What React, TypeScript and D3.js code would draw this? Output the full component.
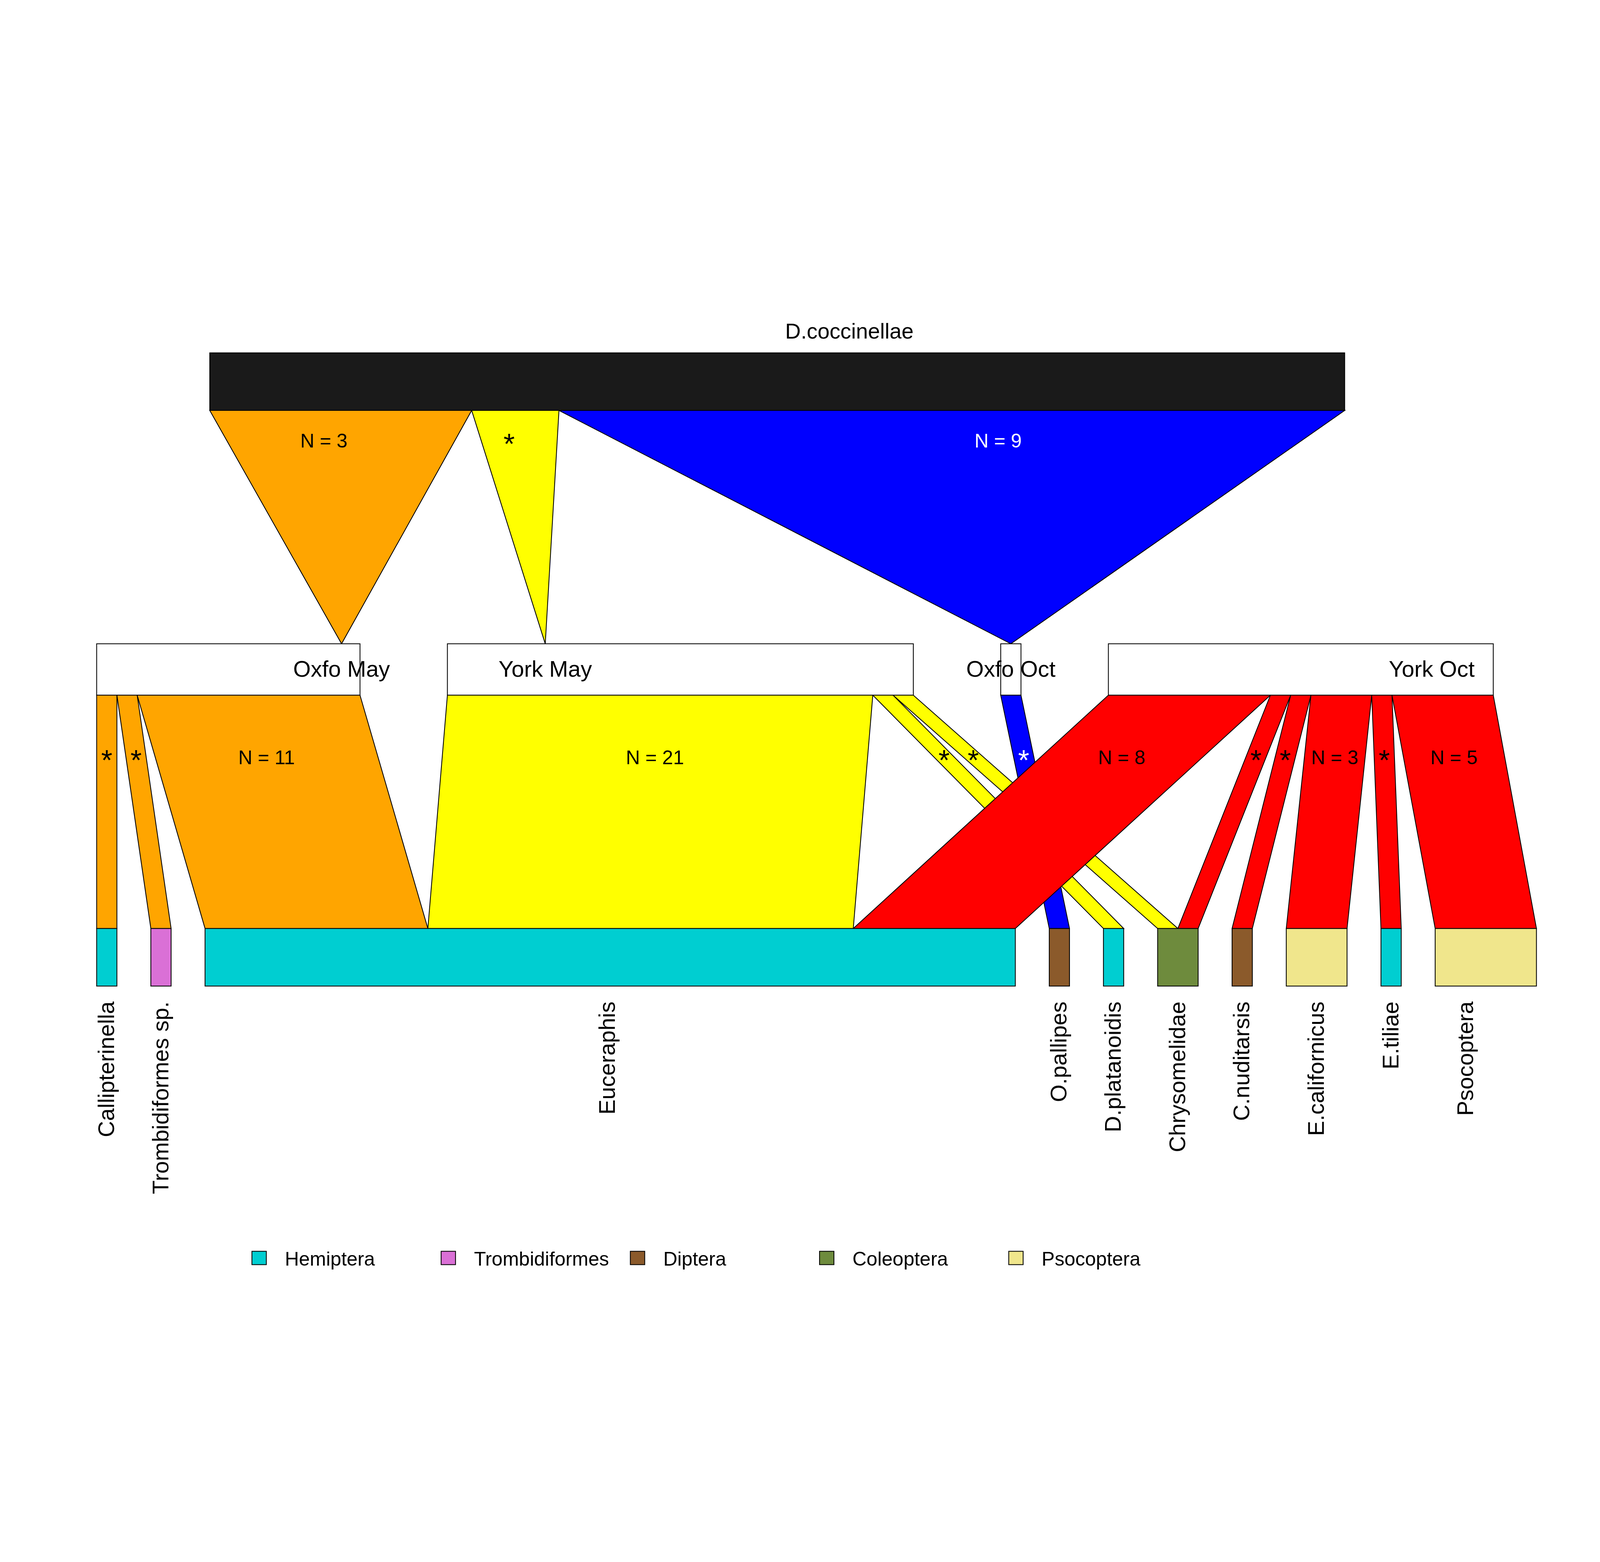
import React from "react";
import * as d3 from "d3";

const topNode = "D.coccinellae";
const midNodes = ["Oxfo May", "York May", "Oxfo Oct", "York Oct"];
const midColors = ["#FFA500", "#FFFF00", "#0000FF", "#FF0000"];
const topCounts = [3, 1, 9, 0];
const bottomNodes = ["Callipterinella", "Trombidiformes sp.", "Euceraphis", "O.pallipes", "D.platanoidis", "Chrysomelidae", "C.nuditarsis", "E.californicus", "E.tiliae", "Psocoptera"];
const bottomOrder = ["Hemiptera", "Trombidiformes", "Hemiptera", "Diptera", "Hemiptera", "Coleoptera", "Diptera", "Psocoptera", "Hemiptera", "Psocoptera"];
const orders = ["Hemiptera", "Trombidiformes", "Diptera", "Coleoptera", "Psocoptera"];
const orderColors = ["#00CED1", "#DA70D6", "#8B5A2B", "#6E8B3D", "#F0E68C"];
// links: [mid index, bottom index, count]
const links: [number, number, number][] = [
  [0, 0, 1], [0, 1, 1], [0, 2, 11],
  [1, 2, 21], [1, 4, 1], [1, 5, 1],
  [2, 3, 1],
  [3, 2, 8], [3, 5, 1], [3, 6, 1], [3, 7, 3], [3, 8, 1], [3, 9, 5],
];
// apex position of top links as fraction along mid box
const apexFrac = [0.93, 0.21, 0.5, 0.84];

export default function App() {
  const W = 1556, H = 1037;
  const unit = d3.scaleLinear().domain([0, 1]).range([0, 19.7]);
  const topUnit = d3.scaleLinear().domain([0, 1]).range([0, 84.9]);
  const y = { topT: 102, topB: 158, midT: 385, midB: 435, botT: 662, botB: 718 };

  const midTot = midNodes.map((_, i) => d3.sum(links.filter(l => l[0] === i), l => l[2]));
  const botTot = bottomNodes.map((_, i) => d3.sum(links.filter(l => l[1] === i), l => l[2]));
  const midX: number[] = []; let cx = 94;
  midTot.forEach(t => { midX.push(cx); cx += unit(t) + 85; });
  const botX: number[] = []; cx = 94;
  botTot.forEach(t => { botX.push(cx); cx += unit(t) + 33; });
  const topX: number[] = []; cx = 204;
  topCounts.forEach(t => { topX.push(cx); cx += topUnit(t); });
  const topEnd = cx;

  const midOff = midNodes.map((_, i) => midX[i]);
  const botOff = bottomNodes.map((_, i) => botX[i]);
  const sorted = [...links].sort((a, b) => a[0] - b[0] || a[1] - b[1]);
  const linkGeo = sorted.map(l => {
    const w = unit(l[2]);
    const m0 = midOff[l[0]]; midOff[l[0]] += w;
    const b0 = botOff[l[1]]; botOff[l[1]] += w;
    return { l, m0, b0, w };
  });
  const font = "Liberation Sans, Arial, sans-serif";
  const fs = 19;

  return (
    <svg viewBox={`0 0 ${W} ${H}`} preserveAspectRatio="xMidYMid meet"
      style={{ position: "fixed", left: 0, top: 0, width: "100vw", height: "100vh", display: "block", background: "white" }} fontFamily={font}>
      <rect x={0} y={0} width={W} height={H} fill="white" />
      <text x={826} y={88} textAnchor="middle" fontSize={21}>{topNode}</text>
      <rect x={204} y={y.topT} width={topEnd - 204} height={y.topB - y.topT} fill="#1A1A1A" stroke="black" strokeWidth={0.8} />
      {topCounts.map((c, i) => {
        if (!c) return null;
        const ax = midX[i] + unit(midTot[i]) * apexFrac[i];
        const x0 = topX[i], x1 = x0 + topUnit(c);
        return (
          <g key={"t" + i}>
            <path d={`M${x0},${y.topB}L${x1},${y.topB}L${ax},${y.midT}Z`} fill={midColors[i]} stroke="black" strokeWidth={0.8} />
            {c === 1
              ? <text x={(x0 + x1) / 2 - 6} y={200} textAnchor="middle" fontSize={28}>*</text>
              : <text x={i === 0 ? 315 : (x0 + x1) / 2 + 45} y={194} textAnchor="middle" fontSize={fs} fill={i === 2 ? "white" : "black"}>{`N = ${c}`}</text>}
          </g>
        );
      })}
      {midNodes.map((n, i) => (
        <rect key={"m" + i} x={midX[i]} y={y.midT} width={unit(midTot[i])} height={y.midB - y.midT} fill="white" stroke="black" strokeWidth={0.8} />
      ))}
      {linkGeo.map((g, k) => (
        <path key={"l" + k} d={`M${g.m0},${y.midB}L${g.m0 + g.w},${y.midB}L${g.b0 + g.w},${y.botT}L${g.b0},${y.botT}Z`} fill={midColors[g.l[0]]} stroke="black" strokeWidth={0.8} />
      ))}
      {linkGeo.map((g, k) => {
        const mx = g.m0 + g.w / 2, bx = g.b0 + g.w / 2;
        const lx = mx + (bx - mx) * 0.265;
        const white = g.l[0] === 2;
        return g.l[2] === 1
          ? <text key={"lt" + k} x={lx} y={508} textAnchor="middle" fontSize={28} fill={white ? "white" : "black"}>*</text>
          : <text key={"lt" + k} x={lx} y={502} textAnchor="middle" fontSize={fs}>{`N = ${g.l[2]}`}</text>;
      })}
      {midNodes.map((n, i) => (
        <text key={"ml" + i} x={midX[i] + unit(midTot[i]) * apexFrac[i]} y={417} textAnchor="middle" fontSize={22}>{n}</text>
      ))}
      {bottomNodes.map((n, i) => {
        const c = orderColors[orders.indexOf(bottomOrder[i])];
        const lx = botX[i] + Math.min(unit(botTot[i]) / 2, 30) + 7;
        return (
          <g key={"b" + i}>
            <rect x={botX[i]} y={y.botT} width={unit(botTot[i])} height={y.botB - y.botT} fill={c} stroke="black" strokeWidth={0.8} />
            <text transform={`translate(${i === 2 ? 598 : lx},733) rotate(-90)`} textAnchor="end" fontSize={22}>{n}</text>
          </g>
        );
      })}
      {orders.map((o, i) => {
        const x = 245 + i * 184;
        return (
          <g key={"o" + i}>
            <rect x={x} y={976} width={14} height={13} fill={orderColors[i]} stroke="black" strokeWidth={0.8} />
            <text x={x + 32} y={990} fontSize={19}>{o}</text>
          </g>
        );
      })}
    </svg>
  );
}
